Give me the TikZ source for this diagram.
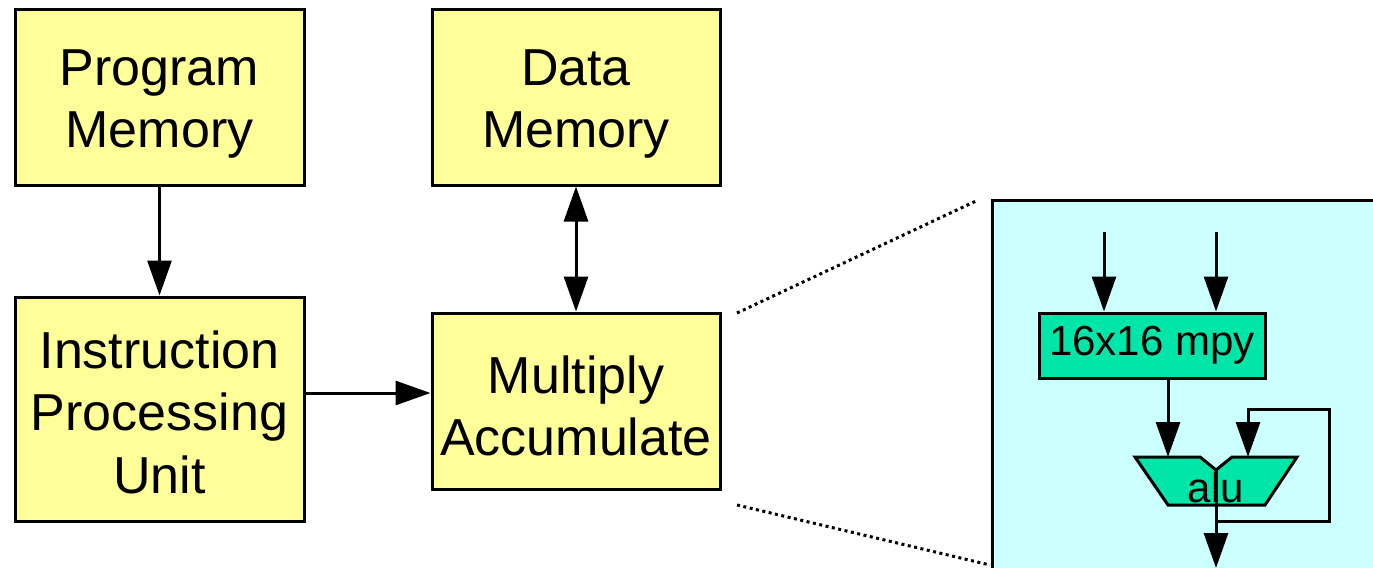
\documentclass[tikz,border=0pt]{standalone}
\usepackage{fontspec}
\setmainfont{Liberation Sans}
\usetikzlibrary{arrows.meta}
\definecolor{boxyellow}{RGB}{255,255,153}
\definecolor{panelcyan}{RGB}{204,255,255}
\definecolor{unitgreen}{RGB}{0,230,168}
\tikzset{
  blockbox/.style={draw=black, fill=boxyellow, line width=3pt, inner sep=0pt},
  blocktext/.style={inner sep=0pt, align=center, font=\fontsize{52}{62.5}\selectfont},
  unitbox/.style={draw=black, fill=unitgreen, line width=3pt, inner sep=0pt,
    font=\fontsize{42}{50}\selectfont},
  conn/.style={line width=3pt, -{Triangle[length=35pt,width=24pt]}},
  connboth/.style={line width=3pt, {Triangle[length=35pt,width=24pt]}-{Triangle[length=35pt,width=24pt]}},
  dotline/.style={line width=3pt, dash pattern=on 3pt off 3.5pt},
}
\begin{document}
\begin{tikzpicture}[x=1pt,y=-1pt]
\useasboundingbox (0,0) rectangle (1373,568);
% zoom panel
\fill[panelcyan] (992,200) rectangle (1373,568);
\draw[line width=3pt] (992,568) -- (992,200) -- (1373,200);

\node[blockbox, minimum width=289pt, minimum height=176pt] (pm) at (159.5,97) {};
\node[blockbox, minimum width=288pt, minimum height=176pt] (dm) at (576,97) {};
\node[blockbox, minimum width=289pt, minimum height=224pt] (ipu) at (159.5,409) {};
\node[blockbox, minimum width=288pt, minimum height=176pt] (mac) at (576,401) {};
\node[blocktext, yshift=-7pt] (pmt) at (pm.center) {Program\\Memory};
\node[blocktext, yshift=-7pt] (dmt) at (dm.center) {Data\\Memory};
\node[blocktext, yshift=-3pt] (ipt) at (ipu.center) {Instruction\\Processing\\Unit};
\node[blocktext, yshift=-5pt] (mact) at (mac.center) {Multiply\\Accumulate};

\coordinate (ymid) at (0,393);
\draw[conn] (pm.south) -- (ipu.north);
\draw[connboth] (dm.south) -- (mac.north);
\draw[conn] (ipu.east |- ymid) -- (mac.west |- ymid);

% dotted zoom lines
\coordinate (zt) at (737,313);
\coordinate (zb) at (737,505);
\coordinate (pt) at (976,201);
\coordinate (pb) at (990,565);
\draw[dotline] (zt) -- (pt);
\draw[dotline] (zb) -- (pb);

% inside panel
\node[unitbox, minimum width=226pt, minimum height=65pt] (mpy) at (1152,345.5) {16x16 mpy};
\coordinate (in1) at (1104,232);
\coordinate (in2) at (1216,232);
\draw[conn] (in1) -- (in1 |- mpy.north);
\draw[conn] (in2) -- (in2 |- mpy.north);

% alu shape
\coordinate (aluTL) at (1135,457);
\coordinate (aluN1) at (1200,457);
\coordinate (aluV) at (1216,470);
\coordinate (aluN2) at (1232,457);
\coordinate (aluTR) at (1297,457);
\coordinate (aluBR) at (1265,505);
\coordinate (aluBL) at (1168,505);
\filldraw[fill=unitgreen, draw=black, line width=3pt, line join=miter]
  (aluTL) -- (aluN1) -- (aluV) -- (aluN2) -- (aluTR) -- (aluBR) -- (aluBL) -- cycle;
\node[font=\fontsize{42}{50}\selectfont, inner sep=0pt, anchor=base] (alu) at (1216,502) {alu};

\coordinate (aluIn1) at (1168,457);
\coordinate (aluIn2) at (1248,457);
\draw[conn] (mpy.south -| aluIn1) -- (aluIn1);
\coordinate (fbR) at (1329,409);
\coordinate (outJ) at (1216,521);
\coordinate (outEnd) at (1216,568);
\draw[conn] (outJ) -- (fbR |- outJ) -- (fbR) -- (aluIn2 |- fbR) -- (aluIn2);
\draw[conn] (aluV) -- (outEnd);
\end{tikzpicture}
\end{document}
